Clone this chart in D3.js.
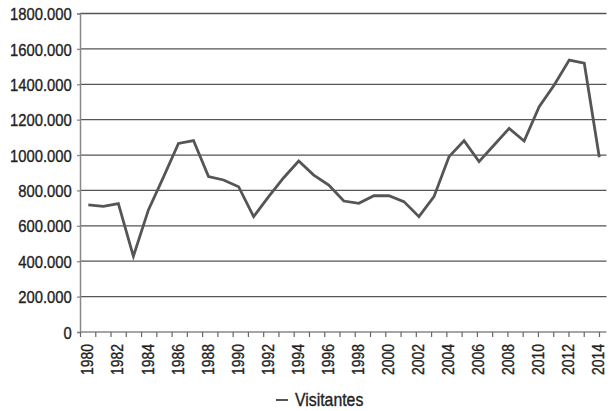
<!DOCTYPE html>
<html>
<head>
<meta charset="utf-8">
<script src="https://cdn.jsdelivr.net/npm/d3@7"></script>
<style>
  body { margin: 0; background: #fff; }
  text { font-family: "Liberation Sans", Arial, sans-serif; fill: #222; stroke: #222; stroke-width: 0.35px; }
</style>
</head>
<body>
<svg id="chart" width="612" height="411"></svg>
<script>
// visitors per year, in thousands (axis shows 1800.000 etc.)
const years = d3.range(1980, 2015);
const visitantes = [718, 710, 725, 428, 690, 875, 1066, 1082, 878, 859, 821, 652, 765, 872, 966,
  887, 831, 740, 727, 770, 770, 737, 652, 765, 991, 1081, 963, 1057, 1151, 1079,
  1273, 1396, 1537, 1519, 988];
const yTicks = [0, 200, 400, 600, 800, 1000, 1200, 1400, 1600, 1800];
const labelYears = years.filter(y => y % 2 === 0);

const svg = d3.select('#chart');
const plotL = 80, plotR = 606.5, plotT = 13.5, plotB = 332;

const y = d3.scaleLinear().domain([0, 1800]).range([plotB, plotT]);
const x = d3.scalePoint().domain(years).range([88.3, 599.3]);
// tick marks on the category axis
const xt = d3.scalePoint().domain(years).range([plotL, 599]);

const fmt = d => d === 0 ? '0' : d + '.000';

// gridlines
svg.append('g').selectAll('line').data(yTicks.slice(1)).enter().append('line')
  .attr('x1', plotL).attr('x2', plotR)
  .attr('y1', d => y(d)).attr('y2', d => y(d))
  .attr('stroke', '#555').attr('stroke-width', 1.3);

// y axis (condensed look via horizontal squeeze)
const yAxis = svg.append('g').attr('transform', `translate(${plotL},0)`)
  .call(d3.axisLeft(y).tickValues(yTicks).tickFormat(fmt).tickSize(3));
yAxis.select('.domain').attr('stroke', '#888').attr('stroke-width', 1.5);
yAxis.selectAll('.tick line').attr('stroke', '#888').attr('stroke-width', 1.3);
yAxis.selectAll('text')
  .attr('x', 0).attr('dy', '0.36em')
  .attr('transform', 'translate(-8.3,0) scale(0.87,1)')
  .style('font-size', '17px').attr('fill', '#222');

// x axis
const xAxis = svg.append('g').attr('transform', `translate(0,${plotB})`)
  .call(d3.axisBottom(xt).tickSize(5).tickFormat(''));
xAxis.select('.domain').attr('d', `M${plotL},0H${plotR}`).attr('stroke', '#888').attr('stroke-width', 1.5);
xAxis.selectAll('.tick line').attr('stroke', '#666').attr('stroke-width', 1.2);

svg.append('g').selectAll('text').data(labelYears).enter().append('text')
  .attr('transform', d => `translate(${x(d) - 1},${plotB + 12}) rotate(-90) scale(0.82,1)`)
  .attr('text-anchor', 'end').attr('dy', '0.36em')
  .style('font-size', '17px')
  .text(d => d);

// line
const line = d3.line().x((d, i) => x(years[i])).y(d => y(d));
svg.append('path').datum(visitantes)
  .attr('d', line).attr('fill', 'none')
  .attr('stroke', '#555').attr('stroke-width', 2.8).attr('stroke-linejoin', 'miter');

// legend
const lg = svg.append('g').attr('transform', 'translate(276,400)');
lg.append('line').attr('x1', 0).attr('x2', 12).attr('y1', 0).attr('y2', 0)
  .attr('stroke', '#555').attr('stroke-width', 2);
lg.append('text').attr('transform', 'translate(19,5.5) scale(0.88,1)')
  .style('font-size', '18px').text('Visitantes');
</script>
</body>
</html>
